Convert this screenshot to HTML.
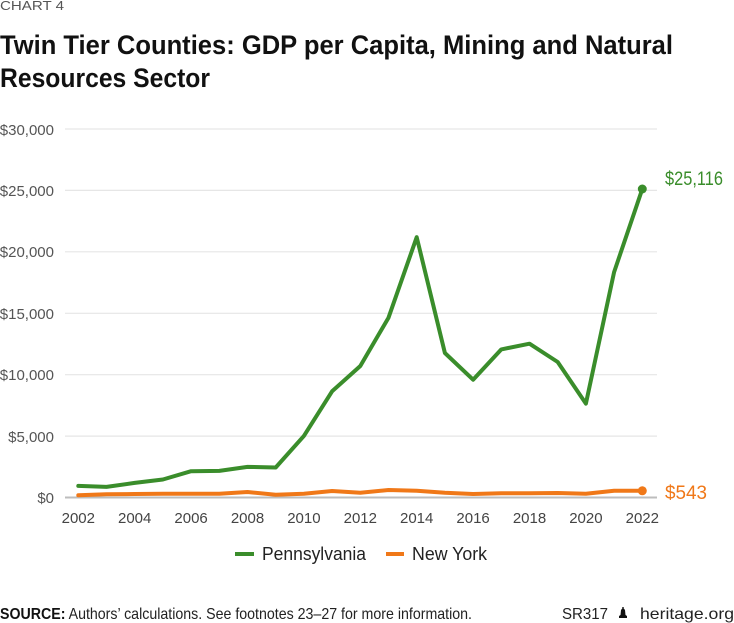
<!DOCTYPE html>
<html><head><meta charset="utf-8"><style>
html,body{margin:0;padding:0;background:#fff;}
svg{display:block;}
text{font-family:"Liberation Sans",sans-serif;}
</style></head><body>
<svg width="734" height="623" viewBox="0 0 734 623" xmlns="http://www.w3.org/2000/svg">
<rect width="734" height="623" fill="#fff"/>
<text x="0" y="10" font-size="13" fill="#555" textLength="64" lengthAdjust="spacingAndGlyphs">CHART 4</text>
<text x="0" y="54" font-size="27" font-weight="bold" fill="#111" textLength="673" lengthAdjust="spacingAndGlyphs">Twin Tier Counties: GDP per Capita, Mining and Natural</text>
<text x="0" y="87" font-size="27" font-weight="bold" fill="#111" textLength="210" lengthAdjust="spacingAndGlyphs">Resources Sector</text>

<g stroke="#e6e6e6" stroke-width="1.2">
<line x1="65" y1="129" x2="657" y2="129"/>
<line x1="65" y1="190.4" x2="657" y2="190.4"/>
<line x1="65" y1="251.8" x2="657" y2="251.8"/>
<line x1="65" y1="313.3" x2="657" y2="313.3"/>
<line x1="65" y1="374.7" x2="657" y2="374.7"/>
<line x1="65" y1="436.1" x2="657" y2="436.1"/>
</g>
<line x1="65" y1="497.5" x2="657" y2="497.5" stroke="#bdbdbd" stroke-width="2"/>

<g font-size="15" fill="#555" text-anchor="end">
<text x="54" y="135">$30,000</text>
<text x="54" y="196">$25,000</text>
<text x="54" y="257">$20,000</text>
<text x="54" y="319">$15,000</text>
<text x="54" y="380">$10,000</text>
<text x="54" y="442">$5,000</text>
<text x="54" y="503">$0</text>
</g>
<g font-size="15" fill="#444" text-anchor="middle">
<text x="78.3" y="523">2002</text>
<text x="134.7" y="523">2004</text>
<text x="191.1" y="523">2006</text>
<text x="247.5" y="523">2008</text>
<text x="303.9" y="523">2010</text>
<text x="360.3" y="523">2012</text>
<text x="416.7" y="523">2014</text>
<text x="473.1" y="523">2016</text>
<text x="529.5" y="523">2018</text>
<text x="585.9" y="523">2020</text>
<text x="642.3" y="523">2022</text>
</g>

<polyline fill="none" stroke="#f07818" stroke-width="4" stroke-linejoin="round" stroke-linecap="round"
points="78.3,495.3 106.5,494.3 134.7,494 162.9,493.7 191.1,493.7 219.3,493.7 247.5,492 275.7,494.7 303.9,493.7 332.1,491 360.3,492.7 388.5,490 416.7,490.7 444.9,492.7 473.1,494 501.3,493.3 529.5,493.3 557.7,493 585.9,493.7 614.1,490.7 642.3,490.8"/>
<circle cx="642.3" cy="490.8" r="4.5" fill="#f07818"/>

<polyline fill="none" stroke="#3a8d2b" stroke-width="4" stroke-linejoin="round" stroke-linecap="round"
points="78.3,485.9 106.5,486.9 134.7,482.9 162.9,479.5 191.1,471.2 219.3,470.9 247.5,466.9 275.7,467.5 303.9,435.9 332.1,391.3 360.3,366 388.5,317.7 416.7,237.2 444.9,353 473.1,379.7 501.3,349.4 529.5,343.7 557.7,362 585.9,403.6 614.1,272.1 642.3,189"/>
<circle cx="642.3" cy="189" r="4.5" fill="#3a8d2b"/>

<text x="665" y="185" font-size="19" fill="#3a8d2b" textLength="58" lengthAdjust="spacingAndGlyphs">$25,116</text>
<text x="665" y="499" font-size="19" fill="#f07818" textLength="42" lengthAdjust="spacingAndGlyphs">$543</text>

<rect x="235" y="552" width="19" height="4" fill="#3a8d2b"/>
<text x="262" y="560" font-size="18" fill="#222" textLength="104" lengthAdjust="spacingAndGlyphs">Pennsylvania</text>
<rect x="386" y="552" width="18" height="4" fill="#f07818"/>
<text x="412" y="560" font-size="18" fill="#222" textLength="75" lengthAdjust="spacingAndGlyphs">New York</text>

<text x="0" y="619" font-size="16" fill="#222" textLength="472" lengthAdjust="spacingAndGlyphs"><tspan font-weight="bold" fill="#111">SOURCE:</tspan> Authors’ calculations. See footnotes 23–27 for more information.</text>
<text x="562" y="619" font-size="16" fill="#222" textLength="46" lengthAdjust="spacingAndGlyphs">SR317</text>
<path d="M619,618 L627,618 L627,616 L625.5,615 L625,610 Q623,606.5 621,610 L620.5,615 L619,616 Z" fill="#111"/>
<rect x="622.3" y="607" width="1.4" height="1.5" fill="#111"/>
<text x="640" y="619" font-size="16" fill="#222" textLength="94" lengthAdjust="spacingAndGlyphs">heritage.org</text>
</svg>
</body></html>
